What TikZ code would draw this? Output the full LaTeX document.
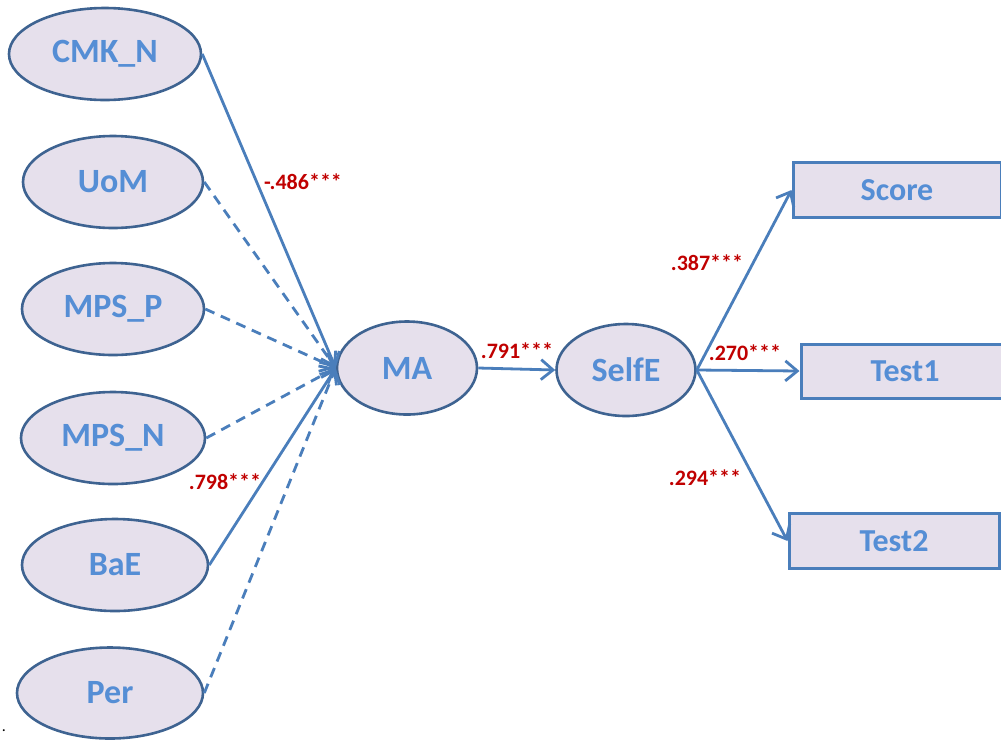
\documentclass[tikz,border=0pt]{standalone}
\usepackage{fontspec}
\setmainfont{Carlito}
\usetikzlibrary{shapes.geometric,arrows.meta}
\definecolor{efill}{HTML}{E6E0EC}
\definecolor{eline}{HTML}{3E6391}
\definecolor{etext}{HTML}{558ED5}
\definecolor{aline}{HTML}{4A7EBB}
\definecolor{lred}{HTML}{C00000}
\begin{document}
\begin{tikzpicture}[x=1pt,y=-1pt,
  lat/.style={ellipse, draw=eline, line width=2.6pt, fill=efill, inner sep=0pt,
    font=\fontsize{34}{36}\selectfont\bfseries, text=etext},
  obs/.style={rectangle, draw=aline, line width=3pt, fill=efill, inner sep=0pt,
    font=\fontsize{32}{34}\selectfont\bfseries, text=etext},
  sigpath/.style={draw=aline, line width=2.8pt, -{Straight Barb[length=12pt,width=20pt]}},
  nspath/.style={sigpath, dash pattern=on 10pt off 7pt},
  coef/.style={text=lred, font=\fontsize{22}{24}\selectfont\bfseries, inner sep=0pt}]
\useasboundingbox (0,0) rectangle (1001,740);
% latent variables
\node[lat, minimum width=192pt, minimum height=92pt] (cmk) at (105,54) {CMK\_N};
\node[lat, minimum width=180pt, minimum height=92pt] (uom) at (113,182) {UoM};
\node[lat, minimum width=182pt, minimum height=92pt] (mpsp) at (113,309) {MPS\_P};
\node[lat, minimum width=184pt, minimum height=92pt] (mpsn) at (113,438) {MPS\_N};
\node[lat, minimum width=186pt, minimum height=92pt] (bae) at (115,565) {BaE};
\node[lat, minimum width=186pt, minimum height=91pt] (per) at (110,693) {Per};
\node[lat, minimum width=140pt, minimum height=93pt] (ma) at (407,368) {MA};
\node[lat, minimum width=139pt, minimum height=92pt] (self) at (626,370) {SelfE};
% observed
\node[obs, minimum width=208pt, minimum height=55pt] (score) at (897,190) {Score};
\node[obs, minimum width=208pt, minimum height=54pt] (test1) at (905,371) {Test1};
\node[obs, minimum width=210pt, minimum height=55pt] (test2) at (894,541) {Test2};
% paths
\draw[sigpath] (cmk.east) -- (ma.west);
\draw[nspath] (uom.east) -- (ma.west);
\draw[nspath] (mpsp.east) -- (ma.west);
\draw[nspath] (mpsn.east) -- (ma.west);
\draw[sigpath] (bae.east) -- (ma.west);
\draw[nspath] (per.east) -- (ma.west);
\draw[sigpath] (ma.east) -- (self.west);
\draw[sigpath] (self.east) -- (score.west);
\draw[sigpath] (self.east) -- (test1.west);
\draw[sigpath] (self.east) -- (test2.west);
% coefficients
\node[coef] (c1) at (303,182) {-.486***};
\node[coef] (c2) at (225,482) {.798***};
\node[coef] (c3) at (517,351) {.791***};
\node[coef] (c4) at (707,263) {.387***};
\node[coef] (c5) at (745,353) {.270***};
\node[coef] (c6) at (705,478) {.294***};
\node[inner sep=0pt, font=\fontsize{16}{18}\selectfont] (dot) at (4,731) {.};
\end{tikzpicture}
\end{document}
